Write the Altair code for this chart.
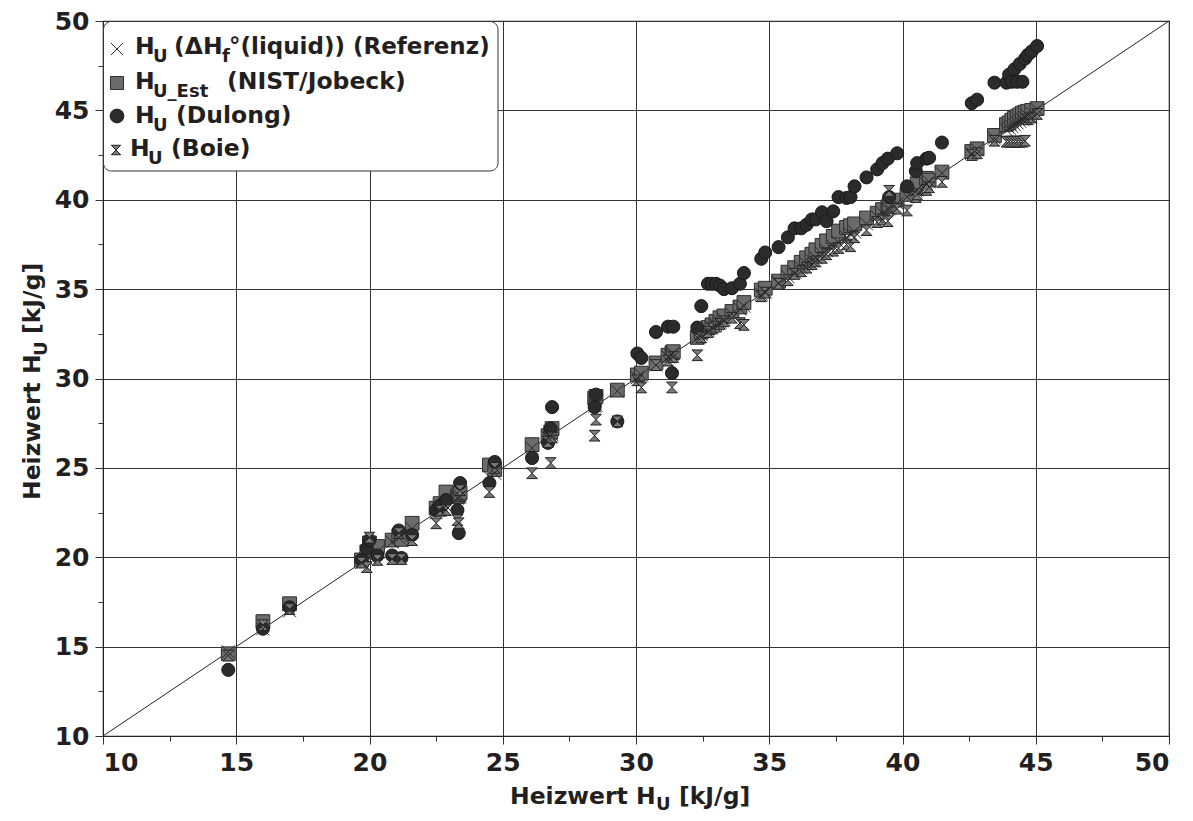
import altair as alt
import pandas as pd

# Reference heating values (x axis) and the three estimates (y axis), kJ/g
hu_ref = [14.7, 16.0, 17.0, 19.7, 19.9, 20.0, 20.3, 20.85, 21.1, 21.2,
          21.6, 22.5, 22.65, 22.87, 23.3, 23.35, 23.4, 24.5, 24.7, 26.1,
          26.7, 26.8, 26.85, 28.45, 28.5, 29.3, 30.05, 30.2, 30.75, 31.2,
          31.35, 31.4, 32.3, 32.45, 32.7, 32.85, 33.0, 33.15, 33.3, 33.6,
          33.9, 34.05, 34.7, 34.85, 35.35, 35.7, 35.95, 36.2, 36.4, 36.6,
          36.75, 36.98, 37.15, 37.4, 37.6, 37.9, 38.05, 38.2, 38.65, 39.05,
          39.25, 39.45, 39.5, 39.8, 40.17, 40.5, 40.55, 40.9, 41.0, 41.48,
          42.6, 42.8, 43.45, 43.9, 44.0, 44.1, 44.2, 44.3, 44.4, 44.5,
          44.6, 44.7, 44.85, 45.05]
hu_nist = [14.6, 16.4, 17.4, 19.85, 20.3, 20.8, 20.6, 20.96, 21.2, 21.0,
           21.9, 22.75, 23.0, 23.65, 23.4, 23.5, 23.6, 25.16, 24.9, 26.3,
           26.8, 27.0, 27.2, 28.9, 29.0, 29.35, 30.2, 30.3, 30.87, 31.3,
           31.45, 31.5, 32.3, 32.6, 32.85, 33.0, 33.2, 33.4, 33.5, 33.75,
           34.0, 34.25, 34.95, 35.05, 35.45, 35.95, 36.2, 36.5, 36.75, 36.95,
           37.2, 37.45, 37.7, 37.95, 38.25, 38.45, 38.55, 38.65, 38.98, 39.25,
           39.45, 39.6, 39.7, 39.98, 40.3, 40.65, 40.9, 41.2, 41.1, 41.55,
           42.7, 42.85, 43.6, 44.2, 44.3, 44.45, 44.55, 44.65, 44.75, 44.85,
           44.9, 44.95, 45.0, 45.1]
hu_dulong = [13.7, 16.0, 17.2, 19.85, 20.5, 20.96, 20.1, 20.1, 21.5, 19.96,
             21.25, 22.64, 22.9, 23.2, 22.64, 21.35, 24.15, 24.15, 25.33, 25.55,
             26.4, 27.2, 28.4, 28.4, 29.1, 27.6, 31.4, 31.15, 32.6, 32.9,
             30.3, 32.9, 32.85, 34.05, 35.3, 35.3, 35.3, 35.2, 35.0, 35.05,
             35.3, 35.9, 36.7, 37.05, 37.35, 37.9, 38.4, 38.4, 38.6, 38.9,
             38.9, 39.3, 38.8, 39.35, 40.15, 40.1, 40.15, 40.75, 41.25, 41.7,
             42.05, 42.3, 40.15, 42.6, 40.75, 41.6, 42.05, 42.3, 42.35, 43.2,
             45.4, 45.6, 46.55, 46.55, 47.0, 46.6, 47.3, 46.6, 47.6, 46.6,
             47.9, 48.1, 48.3, 48.6]
hu_boie = [14.5, 16.2, 17.1, 19.7, 19.45, 21.1, 19.85, 19.9, 21.35, 19.9,
           20.96, 21.9, 22.6, 22.64, 22.08, 21.9, 23.75, 23.65, 25.0, 24.7,
           26.45, 25.27, 26.7, 26.8, 27.7, 27.6, 29.9, 29.5, 30.75, 31.0,
           29.5, 31.2, 31.3, 32.3, 32.6, 32.8, 32.9, 33.05, 33.2, 33.4,
           33.1, 33.0, 34.6, 34.8, 35.3, 35.5, 35.85, 36.0, 36.2, 36.4,
           36.55, 36.75, 36.95, 37.15, 37.3, 37.5, 37.4, 37.9, 38.3, 38.75,
           38.9, 38.8, 40.5, 39.5, 39.4, 40.15, 40.3, 40.55, 40.7, 41.0,
           42.5, 42.6, 43.3, 43.25, 43.25, 43.25, 43.25, 43.25, 43.25, 43.25,
           43.3, 44.5, 44.6, 44.8]

diag = [10, 50]
tick_values = [10 + 2.5 * i for i in range(17)]

df = pd.DataFrame({"ref": hu_ref, "nist": hu_nist, "dulong": hu_dulong, "boie": hu_boie})
df_diag = pd.DataFrame({"a": diag})
one = pd.DataFrame({"k": [0]})

FONT = "DejaVu Sans"
TXT = "#231f20"
MAJOR = "datum.value % 5 === 0"
HOURGLASS = "M-1,-1L1,-1L-1,1L1,1Z"
XSHAPE = "M-1,-1L1,1M1,-1L-1,1"

scale = alt.Scale(domain=[10, 50], nice=False, zero=False)


def make_axis():
    return alt.Axis(
        values=tick_values, title=None, grid=True,
        gridColor="#333333", gridWidth=1,
        gridOpacity={"condition": {"test": MAJOR, "value": 1}, "value": 0},
        tickSize={"condition": {"test": MAJOR, "value": 8}, "value": 5},
        tickColor="#333333", tickWidth=1,
        domainColor="#222222",
        labelExpr="datum.value % 5 === 0 ? format(datum.value, 'd') : ''",
        labelFont=FONT, labelFontSize=25, labelFontWeight="bold",
        labelColor=TXT, labelPadding=6,
    )


def enc(yfield):
    return dict(
        x=alt.X("ref:Q", scale=scale, axis=make_axis()),
        y=alt.Y(f"{yfield}:Q", scale=scale, axis=make_axis()),
    )


base = alt.Chart(df)
line = alt.Chart(df_diag).mark_line(color="#222222", strokeWidth=1).encode(
    x=alt.X("a:Q", scale=scale, axis=make_axis()),
    y=alt.Y("a:Q", scale=scale, axis=make_axis()),
)
nist = base.mark_point(shape="square", filled=True, fill="#6b6b6b", stroke="#2e2e2e",
                       strokeWidth=1, size=190, opacity=1).encode(**enc("nist"))
dulong = base.mark_point(shape="circle", filled=True, fill="#2b2b2b", stroke="#1a1a1a",
                         strokeWidth=1, size=170, opacity=1).encode(**enc("dulong"))
boie = base.mark_point(shape=HOURGLASS, filled=True, fill="#7a7a7a", stroke="#222222",
                       strokeWidth=1, size=115, opacity=1).encode(**enc("boie"))
refm = base.mark_point(shape=XSHAPE, filled=False, color="#2a2a2a",
                       strokeWidth=1, size=170, opacity=1).encode(**enc("ref"))

layers = [line, nist, dulong, boie, refm]

# legend box
layers.append(alt.Chart(one).mark_rect(cornerRadius=8, fill="white", stroke="#333333",
                                        strokeWidth=1).encode(
    x=alt.value(0.5), x2=alt.value(395), y=alt.value(0.5), y2=alt.value(150)))

# legend symbols
layers.append(alt.Chart(one).mark_point(shape=XSHAPE, filled=False, color="#2a2a2a",
                                         strokeWidth=1, size=150, opacity=1).encode(
    x=alt.value(14), y=alt.value(28)))
layers.append(alt.Chart(one).mark_point(shape="square", filled=True, fill="#6b6b6b",
                                         stroke="#2e2e2e", strokeWidth=1, size=170,
                                         opacity=1).encode(x=alt.value(14), y=alt.value(62)))
layers.append(alt.Chart(one).mark_point(shape="circle", filled=True, fill="#2b2b2b",
                                         stroke="#1a1a1a", strokeWidth=1, size=190,
                                         opacity=1).encode(x=alt.value(14), y=alt.value(95)))
layers.append(alt.Chart(one).mark_point(shape=HOURGLASS, filled=True, fill="#7a7a7a",
                                         stroke="#222222", strokeWidth=1, size=90,
                                         opacity=1).encode(x=alt.value(13), y=alt.value(129)))


def txt(text, x, y, size=23.5, angle=0):
    kw = dict(text=text, font=FONT, fontSize=size, fontWeight="bold", align="left",
              baseline="alphabetic", color=TXT)
    if angle:
        kw["angle"] = angle
    return alt.Chart(one).mark_text(**kw).encode(x=alt.value(x), y=alt.value(y))


SUB = 18
# legend texts
layers += [
    txt("H", 32, 33), txt("U", 50, 41, SUB), txt("(ΔH", 71, 33), txt("f", 119, 41, SUB),
    txt("°(liquid)) (Referenz)", 126, 33, 23),
    txt("H", 32, 68), txt("U_Est", 50, 76, SUB), txt("(NIST/Jobeck)", 124, 68),
    txt("H", 32, 102), txt("U", 50, 110, SUB), txt("(Dulong)", 73, 102),
    txt("H", 27, 135), txt("U", 45, 143, SUB), txt("(Boie)", 68, 135),
]

# axis titles
layers += [
    txt("Heizwert H", 407, 783), txt("U", 553, 789, SUB), txt("[kJ/g]", 576, 783),
    txt("Heizwert H", -63, 479, angle=270), txt("U", -56, 335, SUB, angle=270),
    txt("[kJ/g]", -63, 313, angle=270),
]

chart = alt.layer(*layers).properties(
    width=1066, height=715,
    padding={"left": 95, "top": 13, "right": 16, "bottom": 77},
    autosize=alt.AutoSizeParams(type="none"),
).configure_view(stroke="#222222", strokeWidth=1.2)

chart.save("out.html", embed_options={"renderer": "svg", "actions": False})
